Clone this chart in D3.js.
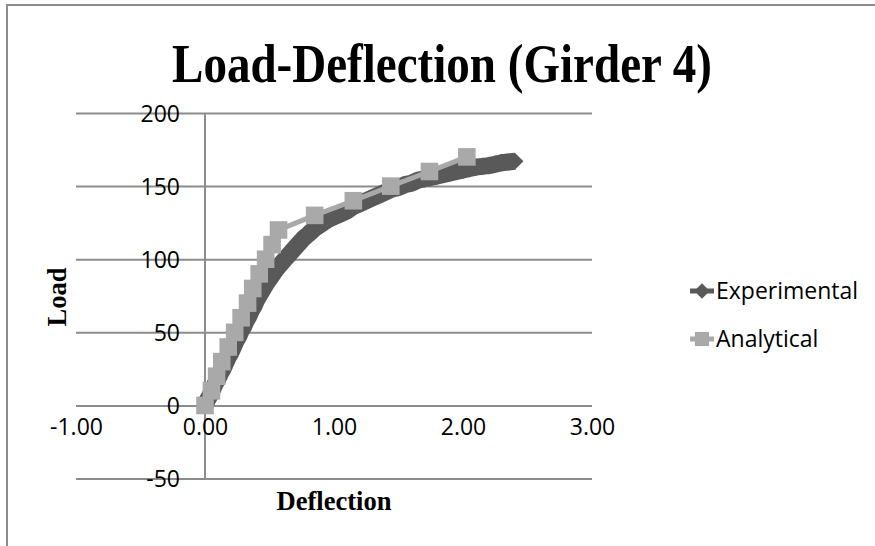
<!DOCTYPE html>
<html>
<head>
<meta charset="utf-8">
<script src="https://cdn.jsdelivr.net/npm/d3@7"></script>
<style>
  body { margin: 0; background: #fff; }
  svg { display: block; }
</style>
</head>
<body>
<div id="chart"></div>
<script>
// deflection / load readings
var expDefl = [0.00, 0.02, 0.04, 0.06, 0.08, 0.10, 0.12, 0.14, 0.16, 0.18, 0.20, 0.22, 0.24, 0.26, 0.28,
  0.30, 0.32, 0.34, 0.36, 0.38, 0.40, 0.42, 0.44, 0.46, 0.48, 0.50, 0.52, 0.54, 0.56, 0.58, 0.60, 0.62,
  0.65, 0.68, 0.72, 0.76, 0.80, 0.85, 0.90, 0.95, 1.00, 1.05, 1.10, 1.15, 1.20, 1.25, 1.30, 1.35, 1.40,
  1.45, 1.50, 1.55, 1.60, 1.65, 1.70, 1.75, 1.80, 1.85, 1.90, 1.95, 2.00, 2.05, 2.10, 2.15, 2.20, 2.25,
  2.30, 2.35, 2.40];
var expLoad = [0, 4, 7, 11, 15, 18, 22, 25, 29, 33, 36, 40, 44, 47, 51,
  54, 58, 61, 65, 68, 72, 75, 78, 81, 84, 86.5, 89, 91.5, 94, 96, 98, 100,
  103, 106, 110, 114, 117, 121, 124, 127, 129, 131, 133, 136, 138, 140, 142, 144, 146,
  148, 149, 151, 152, 154, 155, 156, 157, 158, 159, 160, 161, 162, 163, 163.5, 164, 165,
  166, 166.5, 167];

var anaDefl = [0.00, 0.05, 0.09, 0.13, 0.18, 0.23, 0.28, 0.33, 0.37, 0.42, 0.47, 0.52, 0.57,
  0.85, 1.15, 1.44, 1.74, 2.03];
var anaLoad = [0, 10, 20, 30, 40, 50, 60, 70, 80, 90, 100, 110, 120, 130, 140, 150, 160, 170];

var xTicks = [-1, 0, 1, 2, 3];
var yTicks = [-50, 0, 50, 100, 150, 200];
var seriesNames = ['Experimental', 'Analytical'];

var W = 875, H = 546;
var sans = "'Open Sans', 'DejaVu Sans', sans-serif";
var serif = "'Liberation Serif', 'Times New Roman', serif";
var gridColor = '#8c8c8c';
var expColor = '#595959', anaColor = '#a9a9a9';

var svg = d3.select('#chart').append('svg')
    .attr('width', W)
    .attr('height', H);

svg.append('rect').attr('width', W).attr('height', H).attr('fill', '#fff');

// chart frame (only left and top edges visible)
svg.append('path')
    .attr('d', 'M7,' + H + 'V5H' + W)
    .attr('fill', 'none')
    .attr('stroke', gridColor)
    .attr('stroke-width', 2);

var x = d3.scaleLinear().domain([-1, 3]).range([76, 592]),
    y = d3.scaleLinear().domain([-50, 200]).range([478.6, 113]);

// horizontal gridlines
svg.append('g')
    .attr('transform', 'translate(76,0)')
    .call(d3.axisLeft(y).tickValues(yTicks).tickSize(-(592 - 76)).tickFormat(''))
    .call(function(g) {
      g.select('.domain').remove();
      g.selectAll('line').attr('stroke', gridColor).attr('stroke-width', 2);
    });

// vertical axis at x = 0
svg.append('line')
    .attr('x1', x(0)).attr('x2', x(0))
    .attr('y1', y(200)).attr('y2', y(-50))
    .attr('stroke', gridColor)
    .attr('stroke-width', 2);

// y labels next to the axis
svg.append('g')
    .attr('transform', 'translate(' + (x(0) - 25) + ',0)')
    .call(d3.axisLeft(y).tickValues(yTicks).tickSize(0).tickPadding(0))
    .call(function(g) {
      g.select('.domain').remove();
      g.selectAll('text')
        .attr('font-family', sans)
        .attr('font-size', 23)
        .attr('fill', '#000')
        .attr('dy', '0.36em')
        .text(function(d) { return String(d).replace('\u2212', '-'); });
    });

// x labels
svg.append('g')
    .attr('transform', 'translate(0,430)')
    .call(d3.axisBottom(x).tickValues(xTicks).tickSize(0).tickPadding(0)
      .tickFormat(function(d) { return d.toFixed(2); }))
    .call(function(g) {
      g.select('.domain').remove();
      g.selectAll('text')
        .attr('font-family', sans)
        .attr('font-size', 23)
        .attr('fill', '#000')
        .attr('dy', '0.2em');
    });

// series
var expData = expDefl.map(function(d, i) { return [d, expLoad[i]]; });
var anaData = anaDefl.map(function(d, i) { return [d, anaLoad[i]]; });

var line = d3.line()
    .x(function(d) { return x(d[0]); })
    .y(function(d) { return y(d[1]); });

var diamond = d3.symbol().type(d3.symbolDiamond2).size(200);
var square = d3.symbol().type(d3.symbolSquare).size(310);

// experimental: dense diamonds merge into one thick band
svg.append('path')
    .datum(expData)
    .attr('d', line)
    .attr('fill', 'none')
    .attr('stroke', expColor)
    .attr('stroke-width', 17)
    .attr('stroke-linejoin', 'round');

svg.append('g').selectAll('path')
    .data(expData)
    .join('path')
    .attr('transform', function(d) { return 'translate(' + x(d[0]) + ',' + y(d[1]) + ')'; })
    .attr('d', diamond)
    .attr('fill', expColor);

svg.append('path')
    .datum(anaData)
    .attr('d', line)
    .attr('fill', 'none')
    .attr('stroke', anaColor)
    .attr('stroke-width', 5);

svg.append('g').selectAll('path')
    .data(anaData)
    .join('path')
    .attr('transform', function(d) { return 'translate(' + x(d[0]) + ',' + y(d[1]) + ')'; })
    .attr('d', square)
    .attr('fill', anaColor);

// title and axis titles
svg.append('text')
    .attr('x', 442).attr('y', 82)
    .attr('text-anchor', 'middle')
    .attr('font-family', serif)
    .attr('font-weight', 'bold')
    .attr('font-size', 54)
    .attr('textLength', 540)
    .attr('lengthAdjust', 'spacingAndGlyphs')
    .text('Load-Deflection (Girder 4)');

svg.append('text')
    .attr('x', 334).attr('y', 510)
    .attr('text-anchor', 'middle')
    .attr('font-family', serif)
    .attr('font-weight', 'bold')
    .attr('font-size', 27)
    .attr('textLength', 115)
    .attr('lengthAdjust', 'spacingAndGlyphs')
    .text('Deflection');

svg.append('text')
    .attr('transform', 'translate(66,297)rotate(-90)')
    .attr('text-anchor', 'middle')
    .attr('font-family', serif)
    .attr('font-weight', 'bold')
    .attr('font-size', 27)
    .attr('textLength', 59)
    .attr('lengthAdjust', 'spacingAndGlyphs')
    .text('Load');

// legend
var legend = svg.append('g').selectAll('g')
    .data(seriesNames)
    .join('g')
    .attr('transform', function(d, i) { return 'translate(690,' + (291 + i * 48) + ')'; });

legend.append('line')
    .attr('x1', 0).attr('x2', 24)
    .attr('stroke', function(d, i) { return i ? anaColor : expColor; })
    .attr('stroke-width', 5);

legend.append('path')
    .attr('transform', 'translate(12,0)')
    .attr('d', function(d, i) { return i ? d3.symbol().type(d3.symbolSquare).size(200)() : d3.symbol().type(d3.symbolDiamond2).size(150)(); })
    .attr('fill', function(d, i) { return i ? anaColor : expColor; });

legend.append('text')
    .attr('x', 26)
    .attr('dy', '0.36em')
    .attr('font-family', sans)
    .attr('font-size', 23)
    .text(function(d) { return d; });
</script>
</body>
</html>
